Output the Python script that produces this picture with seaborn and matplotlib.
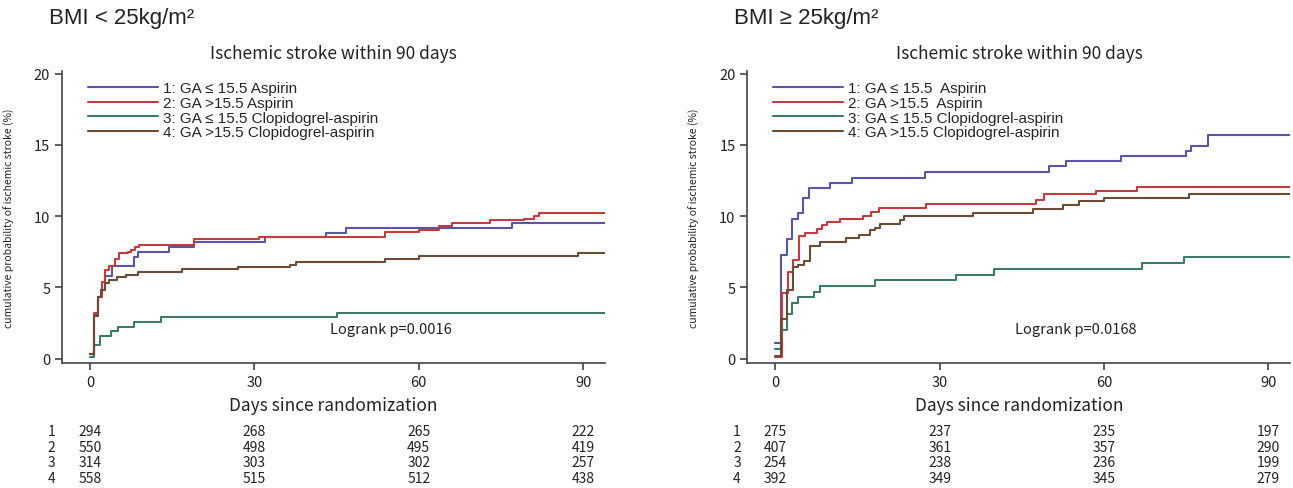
import pandas as pd
import matplotlib
matplotlib.use("Agg")
import matplotlib.pyplot as plt
import matplotlib.transforms as mtransforms
import seaborn as sns

# etiquetas de grupos
grupos = ["1", "2", "3", "4"]
etiquetas_izq = ["1: GA \u2264 15.5 Aspirin", "2: GA >15.5 Aspirin",
                 "3: GA \u2264 15.5 Clopidogrel-aspirin", "4: GA >15.5 Clopidogrel-aspirin"]
etiquetas_der = ["1: GA \u2264 15.5  Aspirin", "2: GA >15.5  Aspirin",
                 "3: GA \u2264 15.5 Clopidogrel-aspirin", "4: GA >15.5 Clopidogrel-aspirin"]
colores = ["#5a55a8", "#c23b3f", "#3f7a66", "#6b4a36"]

# BMI < 25 (curvas escalonadas: dias y probabilidad acumulada %)
dias_izq_1 = [0, 0.7, 1.5, 2.0, 2.8, 4.0, 8.1, 8.7, 14.4, 19.0, 31.9, 43.0, 46.7, 77.0, 94]
prob_izq_1 = [0.3, 3.1, 4.3, 4.8, 5.8, 6.5, 7.1, 7.5, 7.8, 8.2, 8.5, 8.8, 9.2, 9.55, 9.55]
dias_izq_2 = [0, 0.7, 1.5, 2.1, 2.8, 3.5, 4.5, 5.3, 7.0, 7.5, 8.3, 9.0, 19.0, 30.8,
              53.9, 60.0, 63.7, 66.0, 73.0, 79.2, 81.0, 82.0, 94]
prob_izq_2 = [0.3, 3.2, 4.3, 5.4, 6.2, 6.5, 7.0, 7.4, 7.5, 7.6, 7.8, 8.0, 8.4, 8.55,
              8.9, 9.05, 9.3, 9.5, 9.7, 9.8, 10.0, 10.2, 10.2]
dias_izq_3 = [0, 0.7, 1.9, 3.8, 5.1, 8.1, 13.0, 45.0, 94]
prob_izq_3 = [0.1, 0.95, 1.6, 1.9, 2.25, 2.6, 2.9, 3.2, 3.2]
dias_izq_4 = [0, 0.7, 1.5, 2.0, 2.7, 3.5, 5.0, 6.5, 8.7, 16.8, 27.0, 36.5, 37.5, 53.9, 60.0, 89.0, 94]
prob_izq_4 = [0.3, 3.0, 4.3, 4.8, 5.3, 5.5, 5.7, 5.9, 6.1, 6.3, 6.45, 6.6, 6.8, 7.0, 7.2, 7.4, 7.4]

# BMI >= 25
dias_der_1 = [0, 1.1, 2.1, 3.1, 4.1, 5.1, 6.2, 10.0, 14.0, 27.4, 49.9, 53.1, 63.0, 75.0, 75.8, 79.0, 94]
prob_der_1 = [1.1, 7.3, 8.4, 9.8, 10.2, 11.3, 12.0, 12.3, 12.7, 13.1, 13.5, 13.85, 14.2, 14.6, 14.95, 15.7, 15.7]
dias_der_2 = [0, 1.2, 2.3, 3.3, 4.3, 5.5, 7.7, 8.5, 9.5, 11.8, 16.0, 17.5, 19.0, 27.5,
              47.5, 49.0, 58.5, 66.0, 94]
prob_der_2 = [0.1, 4.6, 6.1, 6.9, 8.6, 8.8, 9.1, 9.35, 9.6, 9.8, 10.0, 10.3, 10.6, 10.85,
              11.1, 11.55, 11.8, 12.05, 12.05]
dias_der_3 = [0, 1.1, 2.2, 3.1, 4.1, 7.1, 8.1, 18.2, 33.0, 40.0, 67.0, 74.5, 94]
prob_der_3 = [0.7, 2.0, 3.1, 3.9, 4.3, 4.7, 5.1, 5.5, 5.9, 6.3, 6.7, 7.1, 7.1]
dias_der_4 = [0, 1.1, 2.2, 3.3, 4.1, 5.2, 6.3, 8.2, 12.9, 15.2, 17.3, 18.2, 19.1, 22.7,
              23.5, 36.0, 47.0, 52.5, 55.5, 60.0, 75.5, 94]
prob_der_4 = [0.2, 2.8, 4.8, 6.4, 6.6, 6.85, 7.9, 8.15, 8.45, 8.7, 9.0, 9.2, 9.45, 9.75,
              10.0, 10.25, 10.5, 10.75, 11.05, 11.3, 11.55, 11.55]

# numero en riesgo
dias_riesgo = [0, 30, 60, 90]
riesgo_izq = [[294, 268, 265, 222], [550, 498, 495, 419], [314, 303, 302, 257], [558, 515, 512, 438]]
riesgo_der = [[275, 237, 235, 197], [407, 361, 357, 290], [254, 238, 236, 199], [392, 349, 345, 279]]

sns.set_style("white")
plt.rcParams["font.family"] = ["Noto Sans CJK KR", "DejaVu Sans"]
fuente_estrecha = ["Liberation Sans Narrow", "Liberation Sans", "DejaVu Sans"]
gris = "#444444"


def armar_tabla(dias, probs):
    filas = []
    for g, d, p in zip(grupos, dias, probs):
        for x, y in zip(d, p):
            filas.append({"grupo": g, "dia": x, "prob": y})
    return pd.DataFrame(filas)


def dibujar_panel(ax, tabla, etiquetas, riesgo, titulo, logrank):
    sns.lineplot(data=tabla, x="dia", y="prob", hue="grupo", hue_order=grupos,
                 palette=colores, estimator=None, drawstyle="steps-post",
                 linewidth=1.5, ax=ax, legend=False)
    ax.set_xlim(-5.1, 94)
    ax.set_ylim(-0.3, 20.2)
    ax.set_xticks([0, 30, 60, 90])
    ax.set_yticks([0, 5, 10, 15, 20])
    sns.despine(ax=ax)
    for s in ["left", "bottom"]:
        ax.spines[s].set_color(gris)
        ax.spines[s].set_linewidth(1.2)
    ax.tick_params(direction="out", length=5, width=1.2, color=gris,
                   labelsize=10.5, labelcolor="#222222", left=True, bottom=True)
    ax.set_xlabel("Days since randomization", fontsize=12.5, color="#222222")
    ax.xaxis.set_label_coords(0.5, -0.115)
    ax.set_ylabel("cumulative probability of ischemic stroke (%)", fontsize=7.5, color="#222222")
    ax.yaxis.set_label_coords(-0.087, 0.5)
    ax.set_title("Ischemic stroke within 90 days", fontsize=12.5, color="#222222", pad=9)

    handles = [plt.Line2D([], [], color=c, linewidth=1.5) for c in colores]
    ax.legend(handles, etiquetas, loc="upper left", bbox_to_anchor=(0.022, 1.012),
              frameon=False, handlelength=4.6, handletextpad=0.3, labelspacing=0.05,
              prop={"family": fuente_estrecha, "size": 11})

    ax.text(43.8, 2.1, logrank, fontsize=10.5, color="#222222", va="center")

    trans = mtransforms.blended_transform_factory(ax.transData, ax.transAxes)
    filas_y = [-0.232, -0.287, -0.339, -0.393]
    for i, fila in enumerate(riesgo):
        ax.text(-7, filas_y[i], grupos[i], transform=trans, fontsize=10,
                ha="center", va="center", color="#222222", clip_on=False)
        for d, n in zip(dias_riesgo, fila):
            ax.text(d, filas_y[i], str(n), transform=trans, fontsize=10,
                    ha="center", va="center", color="#222222", clip_on=False)

    ax.figure.text(ax.get_position().x0 - 0.01, 0.963, titulo, fontsize=16,
                   family=fuente_estrecha, va="center", ha="left", color="#222222")


fig = plt.figure(figsize=(12.93, 4.89), dpi=100)
ax1 = fig.add_axes([0.048, 0.256, 0.42, 0.597])
ax2 = fig.add_axes([0.578, 0.256, 0.42, 0.597])

tabla_izq = armar_tabla([dias_izq_1, dias_izq_2, dias_izq_3, dias_izq_4],
                        [prob_izq_1, prob_izq_2, prob_izq_3, prob_izq_4])
tabla_der = armar_tabla([dias_der_1, dias_der_2, dias_der_3, dias_der_4],
                        [prob_der_1, prob_der_2, prob_der_3, prob_der_4])

dibujar_panel(ax1, tabla_izq, etiquetas_izq, riesgo_izq, "BMI < 25kg/m\u00b2", "Logrank p=0.0016")
dibujar_panel(ax2, tabla_der, etiquetas_der, riesgo_der, "BMI \u2265 25kg/m\u00b2", "Logrank p=0.0168")

fig.savefig("out.png", dpi=100)
plt.close(fig)
